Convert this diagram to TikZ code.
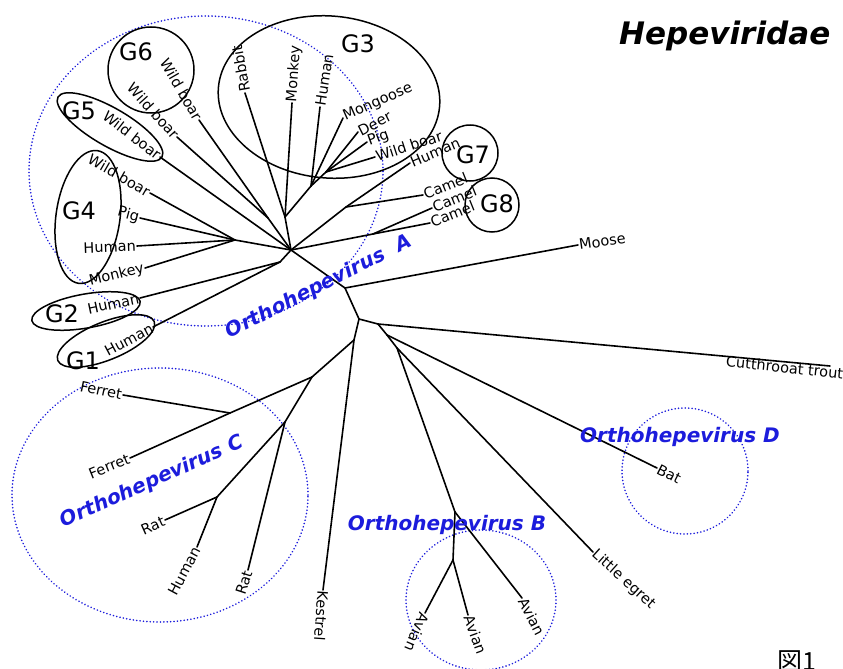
\documentclass[tikz,border=0pt]{standalone}
\usepackage{fontspec}
\setmainfont{DejaVu Sans}[ItalicFont={DejaVu Sans Oblique},BoldItalicFont={DejaVu Sans Bold Oblique}]
\newfontfamily\jpfont{Noto Sans CJK JP}
\usepackage{tikz}

\definecolor{hevblue}{RGB}{28,28,220}
\tikzset{
  br/.style={line width=1.6pt,line cap=round},
  leaf/.style={inner sep=1pt,font=\fontsize{14.5}{16}\selectfont},
  grp/.style={line width=1.5pt},
  grplab/.style={inner sep=0pt,font=\fontsize{24}{26}\selectfont},
  clade/.style={draw=hevblue,line width=1.7pt,dash pattern=on 0.1pt off 3.3pt,line cap=round},
  cladelab/.style={text=hevblue,inner sep=0pt,font=\fontsize{20}{24}\bfseries\itshape\selectfont}
}

\begin{document}
\begin{tikzpicture}[x=1pt,y=-1pt]
    \fill[white] (0,0) rectangle (843,669);
    \useasboundingbox (0,0) rectangle (843,669);

    \draw[clade] (206,171) ellipse [x radius=177pt,y radius=155pt];
    \draw[clade] (160,495) ellipse [x radius=148pt,y radius=127pt];
    \draw[clade] (481,600) ellipse [x radius=75pt,y radius=70pt];
    \draw[clade] (685,471) ellipse [x radius=63pt,y radius=63pt];

    \draw[grp,rotate around={-5:(329,97)}] (329,97) ellipse [x radius=111pt,y radius=81pt];
    \draw[grp] (151,70) circle [radius=43pt];
    \draw[grp,rotate around={-30:(110,127)}] (110,127) ellipse [x radius=60pt,y radius=19pt];
    \draw[grp,rotate around={-8:(88,217)}] (88,217) ellipse [x radius=32pt,y radius=67pt];
    \draw[grp,rotate around={10:(86,311)}] (86,311) ellipse [x radius=55pt,y radius=17pt];
    \draw[grp,rotate around={22:(106,341)}] (106,341) ellipse [x radius=52pt,y radius=19pt];
    \draw[grp] (470,153) circle [radius=28pt];
    \draw[grp] (492,205) circle [radius=27pt];

    \node[grplab] (G1) at (83,361) {G1};
    \node[grplab] (G2) at (62,314) {G2};
    \node[grplab] (G3) at (358,44) {G3};
    \node[grplab] (G4) at (79,211) {G4};
    \node[grplab] (G5) at (79,111) {G5};
    \node[grplab] (G6) at (136,52) {G6};
    \node[grplab] (G7) at (473,155) {G7};
    \node[grplab] (G8) at (497,204) {G8};

    \coordinate (hA) at (291,250);
    \coordinate (a12) at (280,262);
    \coordinate (g4) at (235,240);
    \coordinate (g6) at (268,218);
    \coordinate (g3a) at (285,217);
    \coordinate (g3b) at (311,186);
    \coordinate (g3c) at (326,172);
    \coordinate (g7) at (346,207);
    \coordinate (g8) at (373,234);
    \coordinate (hM) at (345,288);
    \coordinate (hB) at (359,319);
    \coordinate (n3) at (378,324);
    \coordinate (n4) at (387,335);
    \coordinate (n5) at (397,348);
    \coordinate (b1) at (455,512);
    \coordinate (b2) at (453,560);
    \coordinate (hK) at (354,340);
    \coordinate (c1) at (312,377);
    \coordinate (cf) at (230,413);
    \coordinate (cr) at (285,422);
    \coordinate (ch) at (217,497);
    \coordinate (troutend) at (830,366);

    \node[leaf,anchor=east,rotate=28] (g1hum) at (153,327) {Human};
    \node[leaf,anchor=east,rotate=12] (g2hum) at (140,298) {Human};
    \node[leaf,anchor=east,rotate=14] (mon4) at (145,268) {Monkey};
    \node[leaf,anchor=east,rotate=2] (hum4) at (137,246) {Human};
    \node[leaf,anchor=east,rotate=-15] (pig4) at (140,218) {Pig};
    \node[leaf,anchor=east,rotate=-30] (wb4) at (150,193) {Wild boar};
    \node[leaf,anchor=east,rotate=-38] (wb5) at (160,157) {Wild boar};
    \node[leaf,anchor=east,rotate=-48] (wb6b) at (177,137) {Wild boar};
    \node[leaf,anchor=east,rotate=-60] (wb6a) at (199,120) {Wild boar};
    \node[leaf,anchor=west,rotate=100] (rabbit) at (245,93) {Rabbit};
    \node[leaf,anchor=west,rotate=86] (mon3) at (292,103) {Monkey};
    \node[leaf,anchor=west,rotate=81] (hum3) at (320,107) {Human};
    \node[leaf,anchor=west,rotate=24] (mongoose) at (343,118) {Mongoose};
    \node[leaf,anchor=west,rotate=27] (deer) at (358,132) {Deer};
    \node[leaf,anchor=west,rotate=20] (pig3) at (367,142) {Pig};
    \node[leaf,anchor=west,rotate=18] (wb3) at (375,157) {Wild boar};
    \node[leaf,anchor=west,rotate=23] (hum7) at (410,163) {Human};
    \node[leaf,anchor=west,rotate=22] (camel1) at (423,195) {Camel};
    \node[leaf,anchor=west,rotate=22] (camel2) at (432,208) {Camel};
    \node[leaf,anchor=west,rotate=22] (camel3) at (430,223) {Camel};
    \node[leaf,anchor=west,rotate=8] (moose) at (578,245) {Moose};
    \node[leaf,anchor=north east,rotate=-6] (trout) at (845,367) {Cutthrooat trout};
    \node[leaf,anchor=west,rotate=-27] (bat) at (657,468) {Bat};
    \node[leaf,anchor=west,rotate=-42] (egret) at (593,552) {Little egret};
    \node[leaf,anchor=west,rotate=-63] (avian3) at (522,598) {Avian};
    \node[leaf,anchor=west,rotate=-70] (avian2) at (468,615) {Avian};
    \node[leaf,anchor=west,rotate=-113] (avian1) at (425,613) {Avian};
    \node[leaf,anchor=west,rotate=-94] (kestrel) at (323,590) {Kestrel};
    \node[leaf,anchor=east,rotate=-12] (ferret1) at (123,395) {Ferret};
    \node[leaf,anchor=east,rotate=22] (ferret2) at (130,458) {Ferret};
    \node[leaf,anchor=east,rotate=24] (rat1) at (165,520) {Rat};
    \node[leaf,anchor=east,rotate=62] (humc) at (197,547) {Human};
    \node[leaf,anchor=east,rotate=72] (rat2) at (248,570) {Rat};

    \foreach \a/\b in {hA/a12,a12/g2hum.east,a12/g1hum.east,
        hA/g4,g4/wb4.east,g4/pig4.east,g4/hum4.east,g4/mon4.east,
        hA/wb5.east,hA/g6,g6/wb6a.east,g6/wb6b.east,
        hA/g3a,g3a/rabbit.west,g3a/mon3.west,g3a/g3b,g3b/hum3.west,g3b/mongoose.west,
        g3b/g3c,g3c/deer.west,g3c/pig3.west,g3c/wb3.west,
        hA/g7,g7/hum7.west,g7/camel1.west,hA/g8,g8/camel2.west,g8/camel3.west,
        hA/hM,hM/moose.west,hM/hB,
        hB/n3,n3/troutend,n3/n4,n4/bat.west,n4/n5,n5/egret.west,
        n5/b1,b1/avian3.west,b1/b2,b2/avian1.west,b2/avian2.west,
        hB/hK,hK/kestrel.west,hK/c1,c1/cf,cf/ferret1.east,cf/ferret2.east,
        c1/cr,cr/rat2.east,cr/ch,ch/rat1.east,ch/humc.east}
        \draw[br] (\a) -- (\b);

    \node[cladelab,rotate=27] (ohvA) at (319,287) {Orthohepevirus\hspace{0.7em}A};
    \node[cladelab] (ohvB) at (447,525) {Orthohepevirus B};
    \node[cladelab,rotate=24] (ohvC) at (152,482) {Orthohepevirus C};
    \node[cladelab] (ohvD) at (680,437) {Orthohepevirus D};

    \node[anchor=base west,inner sep=0pt,font=\fontsize{31}{36}\bfseries\itshape\selectfont] (title) at (619,45) {Hepeviridae};
    \node[anchor=base west,inner sep=0pt,font=\fontsize{25}{28}\jpfont] (fig) at (777,670) {図1};
\end{tikzpicture}
\end{document}
